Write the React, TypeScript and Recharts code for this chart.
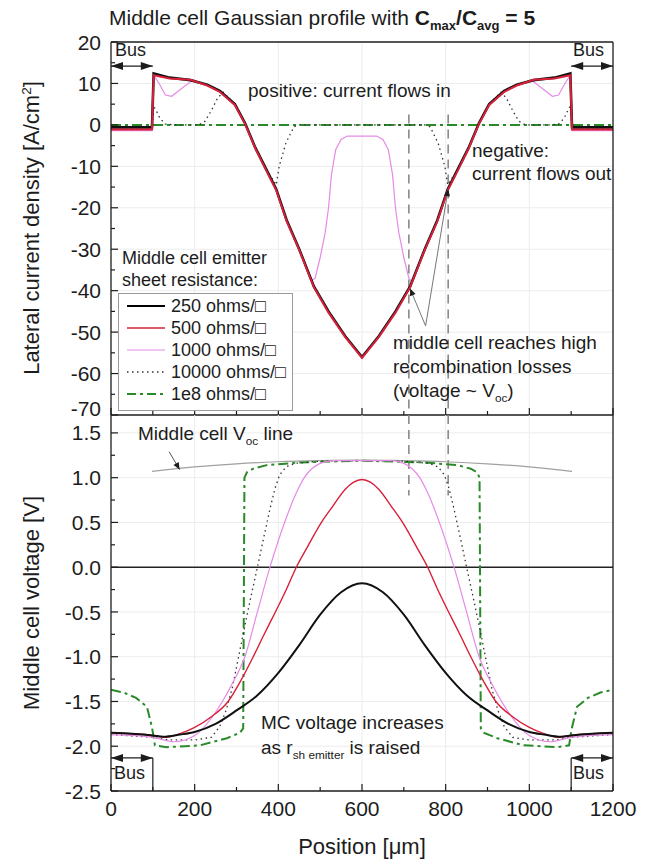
import React from 'react'
import { LineChart, Line, XAxis, YAxis, CartesianGrid, ReferenceLine } from 'recharts'

const FONT = '"Liberation Sans", Arial, Helvetica, sans-serif'
const INK = '#1c1c1c'

// axes
const xTicks = [0, 100, 200, 300, 400, 500, 600, 700, 800, 900, 1000, 1100, 1200]
const xMajor = [0, 200, 400, 600, 800, 1000, 1200]
const jTicks = [20, 15, 10, 5, 0, -5, -10, -15, -20, -25, -30, -35, -40, -45, -50, -55, -60, -65, -70]
const jMajor = [20, 10, 0, -10, -20, -30, -40, -50, -60, -70]
const vTicks = [1.5, 1.25, 1, 0.75, 0.5, 0.25, 0, -0.25, -0.5, -0.75, -1, -1.25, -1.5, -1.75, -2, -2.25, -2.5]
const vMajor = [1.5, 1, 0.5, 0, -0.5, -1, -1.5, -2, -2.5]

// top panel: lateral current density [A/cm2] vs position [um]
const jPosA = [0, 98, 102, 140, 190, 230, 260, 296, 320, 345, 370, 395, 420, 450, 485, 520, 560, 600, 640, 680, 715, 750, 780, 805, 830, 855, 880, 904, 940, 970, 1010, 1060, 1098, 1102, 1200]
const j250 = [-0.6, -0.6, 12.4, 11.4, 10.8, 9.7, 8.2, 5.0, 0.5, -5.5, -10.5, -15.5, -23, -30, -39, -45, -51, -56, -51, -45, -39, -30, -23, -15.5, -10.5, -5.5, 0.5, 5.0, 8.2, 9.7, 10.8, 11.4, 12.4, -0.6, -0.6]
const j500 = [-1.1, -1.1, 12.0, 11.2, 10.9, 9.5, 8.0, 4.8, 0.3, -5.7, -10.8, -15.8, -23.3, -30.2, -39.2, -45.3, -51.2, -56.2, -51.2, -45.3, -39.2, -30.2, -23.3, -15.8, -10.8, -5.7, 0.3, 4.8, 8.0, 9.5, 10.9, 11.2, 12.0, -1.1, -1.1]
const jPos1000 = [0, 98, 102, 115, 130, 145, 165, 195, 230, 260, 296, 320, 345, 370, 395, 420, 450, 480, 488, 500, 512, 520, 527, 537, 550, 565, 635, 650, 663, 673, 680, 688, 700, 712, 720, 750, 780, 805, 830, 855, 880, 904, 940, 970, 1005, 1035, 1055, 1070, 1085, 1098, 1102, 1200]
const j1000 = [-1.4, -1.4, 12.0, 10.0, 7.2, 6.9, 8.5, 10.8, 9.7, 8.2, 5.0, 0.5, -5.5, -10.5, -15.5, -23, -30, -37.5, -37, -32, -26, -20, -12, -6, -3.5, -2.7, -2.7, -3.5, -6, -12, -20, -26, -32, -37, -38, -30, -23, -15.5, -10.5, -5.5, 0.5, 5.0, 8.2, 9.7, 10.8, 8.5, 6.9, 7.2, 10.0, 12.0, -1.4, -1.4]
const jPos10k = [0, 98, 102, 108, 117, 130, 150, 210, 225, 240, 255, 268, 296, 320, 345, 370, 395, 402, 418, 437, 450, 750, 763, 782, 798, 805, 830, 855, 880, 904, 932, 945, 960, 975, 990, 1050, 1070, 1083, 1092, 1098, 1102, 1200]
const j10k = [-1, -1, 4.5, 3.5, 1.6, 0.2, 0, 0, 0.9, 3.5, 6.5, 7.9, 5.0, 0.5, -5.5, -10.5, -14.5, -10, -4.4, -0.5, 0, 0, -0.5, -4.4, -10, -14.5, -10.5, -5.5, 0.5, 5.0, 7.9, 6.5, 3.5, 0.9, 0, 0, 0.2, 1.6, 3.5, 4.5, -1, -1]
const jPos1e8 = [0, 1200]
const j1e8 = [0, 0]

// bottom panel: middle cell voltage [V]
const vPos250 = [0, 50, 100, 125, 165, 200, 250, 300, 350, 400, 450, 500, 550, 600, 650, 700, 750, 800, 850, 900, 950, 1000, 1035, 1075, 1100, 1150, 1200]
const v250 = [-1.85, -1.86, -1.88, -1.895, -1.87, -1.84, -1.75, -1.6, -1.43, -1.18, -0.87, -0.53, -0.28, -0.18, -0.28, -0.53, -0.87, -1.18, -1.43, -1.6, -1.75, -1.84, -1.87, -1.895, -1.88, -1.86, -1.85]
const vPos500 = [0, 100, 130, 165, 200, 240, 280, 310, 340, 365, 393, 420, 443, 470, 503, 530, 560, 580, 600, 620, 640, 670, 697, 730, 757, 780, 807, 835, 860, 890, 920, 960, 1000, 1035, 1070, 1100, 1200]
const v500 = [-1.85, -1.88, -1.9, -1.86, -1.79, -1.67, -1.5, -1.27, -1.0, -0.76, -0.5, -0.24, 0, 0.23, 0.5, 0.68, 0.87, 0.95, 0.98, 0.95, 0.87, 0.68, 0.5, 0.23, 0, -0.24, -0.5, -0.76, -1.0, -1.27, -1.5, -1.67, -1.79, -1.86, -1.9, -1.88, -1.85]
const vPos1000 = [0, 100, 150, 200, 250, 290, 320, 350, 380, 415, 445, 462, 480, 500, 530, 600, 670, 700, 720, 738, 755, 785, 820, 850, 880, 910, 950, 1000, 1050, 1100, 1200]
const v1000 = [-1.87, -1.9, -1.95, -1.88, -1.62, -1.3, -1.0, -0.5, 0, 0.5, 0.85, 1.0, 1.1, 1.16, 1.19, 1.19, 1.19, 1.16, 1.1, 1.0, 0.85, 0.5, 0, -0.5, -1.0, -1.3, -1.62, -1.88, -1.95, -1.9, -1.87]
const vPos10k = [0, 100, 140, 200, 240, 260, 275, 290, 305, 320, 335, 350, 365, 380, 392, 403, 418, 440, 500, 600, 700, 760, 782, 797, 808, 820, 835, 850, 865, 880, 895, 910, 925, 940, 960, 1000, 1060, 1100, 1200]
const v10k = [-1.87, -1.9, -1.93, -1.93, -1.9, -1.78, -1.6, -1.35, -1.0, -0.65, -0.32, 0, 0.33, 0.65, 0.88, 1.03, 1.12, 1.16, 1.185, 1.19, 1.185, 1.16, 1.12, 1.03, 0.88, 0.65, 0.33, 0, -0.32, -0.65, -1.0, -1.35, -1.6, -1.78, -1.9, -1.93, -1.93, -1.9, -1.87]
const vPos1e8 = [0, 30, 60, 86, 98, 105, 133, 213, 277, 308, 316, 319, 325, 340, 372, 452, 600, 748, 828, 860, 875, 881, 884, 892, 923, 987, 1067, 1095, 1102, 1114, 1140, 1170, 1200]
const v1e8 = [-1.37, -1.4, -1.46, -1.56, -1.79, -1.99, -2.01, -1.99, -1.91, -1.85, -1.8, 1.0, 1.06, 1.1, 1.14, 1.17, 1.19, 1.17, 1.14, 1.1, 1.06, 1.0, -1.8, -1.85, -1.91, -1.99, -2.01, -1.99, -1.79, -1.56, -1.46, -1.4, -1.37]
const vocPos = [98, 200, 300, 400, 500, 600, 700, 800, 900, 1000, 1102]
const voc = [1.07, 1.12, 1.155, 1.178, 1.19, 1.195, 1.19, 1.178, 1.155, 1.12, 1.07]

const zip = (xs: number[], ys: number[]) => xs.map((x, i) => ({ x, y: ys[i] }))

const RED = '#d8203a'
const PINK = '#e68ae6'
const GREEN = '#2a8a2a'

function xTick(dir: number, labels: boolean) {
  return (p: any) => {
    const v = p.payload.value
    const major = xMajor.includes(v)
    return (
      <g>
        <line x1={p.x} x2={p.x} y1={p.y} y2={p.y + dir * (major ? 7 : 4)} stroke={INK} strokeWidth={1.2} />
        {labels && major && (
          <text x={p.x} y={p.y + 25} textAnchor="middle" fontSize={21} fontFamily={FONT} fill={INK}>{v}</text>
        )}
      </g>
    )
  }
}

// lift: value whose label is nudged up (bottom of the upper panel)
function yTick(dir: number, majors: number[], fmt: ((v: number) => string) | null, lift?: number) {
  return (p: any) => {
    const v = p.payload.value
    const major = majors.includes(v)
    const ly = v === lift ? p.y - 7 : p.y
    return (
      <g>
        <line x1={p.x} x2={p.x + dir * (major ? 7 : 4)} y1={p.y} y2={p.y} stroke={INK} strokeWidth={1.2} />
        {fmt && major && (
          <text x={p.x - 10} y={ly} dy="0.36em" textAnchor="end" fontSize={21} fontFamily={FONT} fill={INK}>{fmt(v)}</text>
        )}
      </g>
    )
  }
}

// line with optional arrow heads, drawn in pixel space from the scaled segment
function arrow(start: boolean, end: boolean, len: number, half: number) {
  return (p: any) => {
    const { x1, y1, x2, y2 } = p
    const a = Math.atan2(y2 - y1, x2 - x1)
    const head = (x: number, y: number, ang: number) => {
      const bx = x - Math.cos(ang) * len
      const by = y - Math.sin(ang) * len
      const px = -Math.sin(ang) * half
      const py = Math.cos(ang) * half
      return <polygon points={`${x},${y} ${bx + px},${by + py} ${bx - px},${by - py}`} fill={INK} />
    }
    return (
      <g>
        <line x1={x1} y1={y1} x2={x2} y2={y2} stroke={p.stroke} strokeWidth={p.strokeWidth} />
        {start && head(x1, y1, a + Math.PI)}
        {end && head(x2, y2, a)}
      </g>
    )
  }
}

const Sub = ({ children }: { children: React.ReactNode }) => (
  <span style={{ fontSize: '0.62em', position: 'relative', top: '0.4em' }}>{children}</span>
)

const Txt = ({ x, y, size = 19, children }: { x: number; y: number; size?: number; children: React.ReactNode }) => (
  <div style={{ position: 'absolute', left: x, top: y, transform: 'translateY(-50%)', fontSize: size, lineHeight: 1, whiteSpace: 'nowrap' }}>
    {children}
  </div>
)

const legendRows = [
  { name: '250 ohms/□', color: '#000', width: 2.2, dash: undefined },
  { name: '500 ohms/□', color: RED, width: 1.5, dash: undefined },
  { name: '1000 ohms/□', color: PINK, width: 1.2, dash: undefined },
  { name: '10000 ohms/□', color: '#333', width: 1.3, dash: '1.5 3.5' },
  { name: '1e8 ohms/□', color: GREEN, width: 2, dash: '9 4 3 4' },
]

const axisLine = { stroke: INK, strokeWidth: 1.3 }

export default function App() {
  return (
    <div style={{ position: 'absolute', left: 0, top: 0, width: 653, height: 865, background: '#fff', fontFamily: FONT, color: INK, overflow: 'hidden' }}>
      <div style={{ position: 'absolute', left: 0, top: 0 }}>
        <LineChart width={653} height={440} margin={{ top: 41, right: 39, bottom: 24, left: 110 }}>
          <CartesianGrid xAxisId="b" yAxisId="l" stroke="#ececec" verticalValues={[200, 400, 600, 800, 1000]} horizontalValues={[10, 0, -10, -20, -30, -40, -50, -60]} />
          <XAxis xAxisId="b" dataKey="x" type="number" domain={[0, 1200]} ticks={xTicks} interval={0} height={1} tickSize={0} tickMargin={0} tickLine={false} tick={xTick(-1, false)} axisLine={axisLine} allowDataOverflow />
          <XAxis xAxisId="t" orientation="top" type="number" domain={[0, 1200]} ticks={xTicks} interval={0} height={1} tickSize={0} tickMargin={0} tickLine={false} tick={xTick(1, false)} axisLine={axisLine} />
          <YAxis yAxisId="l" type="number" domain={[-70, 20]} ticks={jTicks} interval={0} width={1} tickSize={0} tickMargin={0} tickLine={false} tick={yTick(1, jMajor, (v) => String(v), -70)} axisLine={axisLine} allowDataOverflow />
          <YAxis yAxisId="r" orientation="right" type="number" domain={[-70, 20]} ticks={jTicks} interval={0} width={1} tickSize={0} tickMargin={0} tickLine={false} tick={yTick(-1, jMajor, null)} axisLine={axisLine} />

          <ReferenceLine xAxisId="b" yAxisId="l" ifOverflow="visible" segment={[{ x: 712, y: 2.5 }, { x: 712, y: -70 }]} stroke="#8a8a8a" strokeWidth={1.6} strokeDasharray="9 6" />
          <ReferenceLine xAxisId="b" yAxisId="l" ifOverflow="visible" segment={[{ x: 806, y: 2.5 }, { x: 806, y: -70 }]} stroke="#8a8a8a" strokeWidth={1.6} strokeDasharray="9 6" />

          <Line xAxisId="b" yAxisId="l" data={zip(jPos1e8, j1e8)} dataKey="y" type="linear" dot={false} stroke={GREEN} strokeWidth={2} strokeDasharray="10 4 3 4" isAnimationActive={false} />
          <Line xAxisId="b" yAxisId="l" data={zip(jPos10k, j10k)} dataKey="y" type="linear" dot={false} stroke="#333" strokeWidth={1.3} strokeDasharray="1.5 3.5" isAnimationActive={false} />
          <Line xAxisId="b" yAxisId="l" data={zip(jPos1000, j1000)} dataKey="y" type="linear" dot={false} stroke={PINK} strokeWidth={1.2} isAnimationActive={false} />
          <Line xAxisId="b" yAxisId="l" data={zip(jPosA, j250)} dataKey="y" type="linear" dot={false} stroke="#111" strokeWidth={2.6} isAnimationActive={false} />
          <Line xAxisId="b" yAxisId="l" data={zip(jPosA, j500)} dataKey="y" type="linear" dot={false} stroke={RED} strokeWidth={2} isAnimationActive={false} />

          <ReferenceLine xAxisId="b" yAxisId="l" ifOverflow="visible" segment={[{ x: 752, y: -48.5 }, { x: 715, y: -39.5 }]} stroke="#777" strokeWidth={1} shape={arrow(false, true, 7, 3)} />
          <ReferenceLine xAxisId="b" yAxisId="l" ifOverflow="visible" segment={[{ x: 752, y: -48.5 }, { x: 806, y: -15.5 }]} stroke="#777" strokeWidth={1} shape={arrow(false, true, 7, 3)} />
          <ReferenceLine xAxisId="b" yAxisId="l" ifOverflow="visible" segment={[{ x: 0, y: 14.2 }, { x: 100, y: 14.2 }]} stroke={INK} strokeWidth={1.2} shape={arrow(true, true, 12, 4)} />
          <ReferenceLine xAxisId="b" yAxisId="l" ifOverflow="visible" segment={[{ x: 1100, y: 14.2 }, { x: 1200, y: 14.2 }]} stroke={INK} strokeWidth={1.2} shape={arrow(true, true, 12, 4)} />
        </LineChart>
      </div>

      <div style={{ position: 'absolute', left: 0, top: 415 }}>
        <LineChart width={653} height={450} margin={{ top: 0, right: 39, bottom: 73, left: 110 }}>
          <CartesianGrid xAxisId="b" yAxisId="l" stroke="#ececec" verticalValues={[200, 400, 600, 800, 1000]} horizontalValues={[1.5, 1, 0.5, -0.5, -1, -1.5, -2]} />
          <XAxis xAxisId="b" dataKey="x" type="number" domain={[0, 1200]} ticks={xTicks} interval={0} height={1} tickSize={0} tickMargin={0} tickLine={false} tick={xTick(-1, true)} axisLine={axisLine} allowDataOverflow />
          <YAxis yAxisId="l" type="number" domain={[-2.5, 1.7]} ticks={vTicks} interval={0} width={1} tickSize={0} tickMargin={0} tickLine={false} tick={yTick(1, vMajor, (v) => v.toFixed(1))} axisLine={axisLine} allowDataOverflow />
          <YAxis yAxisId="r" orientation="right" type="number" domain={[-2.5, 1.7]} width={1} tick={false} tickLine={false} axisLine={axisLine} />

          <ReferenceLine xAxisId="b" yAxisId="l" y={0} stroke="#222" strokeWidth={1.6} />
          <ReferenceLine xAxisId="b" yAxisId="l" ifOverflow="visible" segment={[{ x: 712, y: 1.7 }, { x: 712, y: 0.8 }]} stroke="#8a8a8a" strokeWidth={1.6} strokeDasharray="9 6" />
          <ReferenceLine xAxisId="b" yAxisId="l" ifOverflow="visible" segment={[{ x: 806, y: 1.7 }, { x: 806, y: 0.8 }]} stroke="#8a8a8a" strokeWidth={1.6} strokeDasharray="9 6" />

          <Line xAxisId="b" yAxisId="l" data={zip(vocPos, voc)} dataKey="y" type="monotone" dot={false} stroke="#a0a0a0" strokeWidth={1.2} isAnimationActive={false} />
          <Line xAxisId="b" yAxisId="l" data={zip(vPos1e8, v1e8)} dataKey="y" type="linear" dot={false} stroke={GREEN} strokeWidth={2} strokeDasharray="10 4 3 4" isAnimationActive={false} />
          <Line xAxisId="b" yAxisId="l" data={zip(vPos10k, v10k)} dataKey="y" type="linear" dot={false} stroke="#333" strokeWidth={1.3} strokeDasharray="1.5 3.5" isAnimationActive={false} />
          <Line xAxisId="b" yAxisId="l" data={zip(vPos1000, v1000)} dataKey="y" type="monotone" dot={false} stroke={PINK} strokeWidth={1.2} isAnimationActive={false} />
          <Line xAxisId="b" yAxisId="l" data={zip(vPos500, v500)} dataKey="y" type="monotone" dot={false} stroke={RED} strokeWidth={1.4} isAnimationActive={false} />
          <Line xAxisId="b" yAxisId="l" data={zip(vPos250, v250)} dataKey="y" type="monotone" dot={false} stroke="#111" strokeWidth={2} isAnimationActive={false} />

          <ReferenceLine xAxisId="b" yAxisId="l" ifOverflow="visible" segment={[{ x: 139, y: 1.29 }, { x: 164, y: 1.09 }]} stroke="#555" strokeWidth={1} shape={arrow(false, true, 7, 3)} />
          <ReferenceLine xAxisId="b" yAxisId="l" ifOverflow="visible" segment={[{ x: 0, y: -2.13 }, { x: 100, y: -2.13 }]} stroke={INK} strokeWidth={1.2} shape={arrow(true, true, 12, 4)} />
          <ReferenceLine xAxisId="b" yAxisId="l" ifOverflow="visible" segment={[{ x: 1100, y: -2.13 }, { x: 1200, y: -2.13 }]} stroke={INK} strokeWidth={1.2} shape={arrow(true, true, 12, 4)} />
          <ReferenceLine xAxisId="b" yAxisId="l" ifOverflow="visible" segment={[{ x: 100, y: -2.13 }, { x: 100, y: -2.5 }]} stroke={INK} strokeWidth={1.2} />
          <ReferenceLine xAxisId="b" yAxisId="l" ifOverflow="visible" segment={[{ x: 1100, y: -2.13 }, { x: 1100, y: -2.5 }]} stroke={INK} strokeWidth={1.2} />
        </LineChart>
      </div>

      {/* title and axis titles */}
      <Txt x={109} y={17} size={21}>
        Middle cell Gaussian profile with <b>C<Sub>max</Sub>/C<Sub>avg</Sub> = 5</b>
      </Txt>
      <div style={{ position: 'absolute', left: 32, top: 228, transform: 'translate(-50%, -50%) rotate(-90deg)', fontSize: 22, whiteSpace: 'nowrap', lineHeight: 1 }}>
        Lateral current density [A/cm<span style={{ fontSize: '0.62em', position: 'relative', top: '-0.6em' }}>2</span>]
      </div>
      <div style={{ position: 'absolute', left: 32, top: 603, transform: 'translate(-50%, -50%) rotate(-90deg)', fontSize: 22, whiteSpace: 'nowrap', lineHeight: 1 }}>
        Middle cell voltage [V]
      </div>
      <div style={{ position: 'absolute', left: 362, top: 847, transform: 'translate(-50%, -50%)', fontSize: 22, whiteSpace: 'nowrap', lineHeight: 1 }}>
        Position [μm]
      </div>

      {/* annotations */}
      <Txt x={115} y={50} size={18}>Bus</Txt>
      <Txt x={573} y={50} size={18}>Bus</Txt>
      <Txt x={114} y={773} size={18}>Bus</Txt>
      <Txt x={573} y={773} size={18}>Bus</Txt>
      <Txt x={248} y={90}>positive: current flows in</Txt>
      <Txt x={472} y={150}>negative:</Txt>
      <Txt x={472} y={173}>current flows out</Txt>
      <Txt x={393} y={342}>middle cell reaches high</Txt>
      <Txt x={393} y={366}>recombination losses</Txt>
      <Txt x={393} y={390}>(voltage ~ V<Sub>oc</Sub>)</Txt>
      <Txt x={138} y={433}>Middle cell V<Sub>oc</Sub> line</Txt>
      <Txt x={261} y={722}>MC voltage increases</Txt>
      <Txt x={261} y={747}>as r<Sub>sh emitter</Sub> is raised</Txt>

      {/* legend */}
      <Txt x={122} y={258} size={18}>Middle cell emitter</Txt>
      <Txt x={122} y={280} size={18}>sheet resistance:</Txt>
      <div style={{ position: 'absolute', left: 118, top: 293, width: 175, height: 118, border: '1px solid #9a9a9a', background: '#fff', boxSizing: 'border-box' }}>
        {legendRows.map((r, i) => (
          <div key={r.name} style={{ position: 'absolute', left: 0, top: 12 + i * 22, transform: 'translateY(-50%)', display: 'flex', alignItems: 'center', whiteSpace: 'nowrap' }}>
            <svg width={52} height={10} style={{ display: 'block' }}>
              <line x1={8} x2={46} y1={5} y2={5} stroke={r.color} strokeWidth={r.width} strokeDasharray={r.dash} />
            </svg>
            <span style={{ fontSize: 18, lineHeight: 1 }}>{r.name}</span>
          </div>
        ))}
      </div>
    </div>
  )
}
